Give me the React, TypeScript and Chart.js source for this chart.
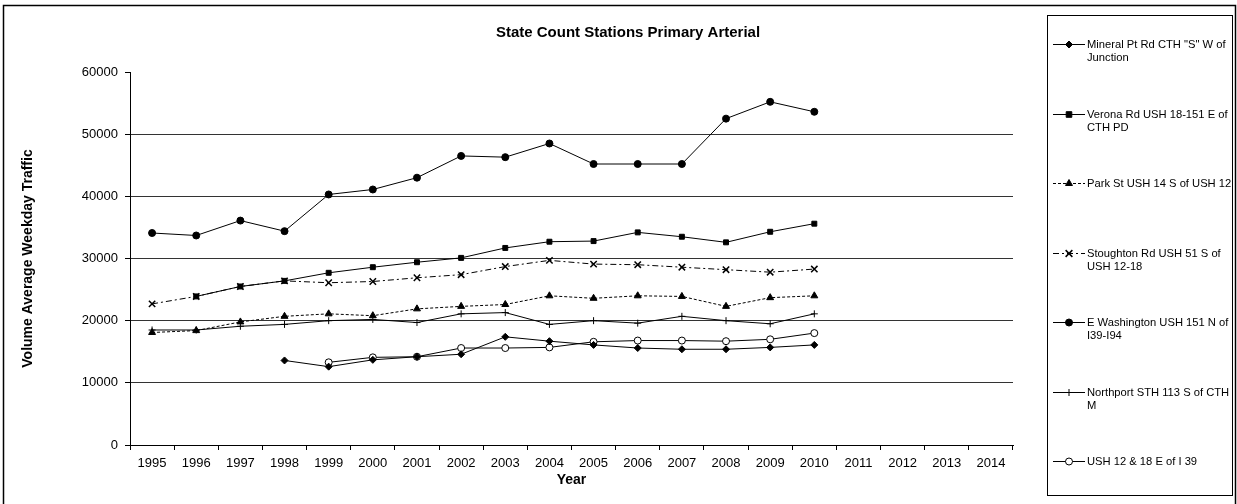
import React, { useEffect, useRef } from 'react';
import { Chart, registerables } from 'chart.js';

Chart.register(...registerables);

const chartTitle = 'State Count Stations Primary Arterial';
const yAxisTitle = 'Volume Average Weekday Traffic';
const xAxisTitle = 'Year';

const years = ['1995', '1996', '1997', '1998', '1999', '2000', '2001', '2002', '2003', '2004',
  '2005', '2006', '2007', '2008', '2009', '2010', '2011', '2012', '2013', '2014'];

const yTicks = [0, 10000, 20000, 30000, 40000, 50000, 60000];

const mineralPt = [null, null, null, 13600, 12600, 13700, 14200, 14600, 17400, 16700, 16100, 15600, 15400, 15400, 15700, 16100];
const veronaRd = [null, 23900, 25500, 26400, 27700, 28600, 29400, 30100, 31700, 32700, 32800, 34200, 33500, 32600, 34300, 35600];
const parkSt = [18100, 18400, 19800, 20700, 21100, 20800, 21900, 22300, 22600, 24000, 23600, 24000, 23900, 22300, 23700, 24000];
const stoughtonRd = [22700, 23900, 25500, 26400, 26100, 26300, 26900, 27400, 28700, 29700, 29100, 29000, 28600, 28200, 27800, 28300];
const eWashington = [34100, 33700, 36100, 34400, 40300, 41100, 43000, 46500, 46300, 48500, 45200, 45200, 45200, 52500, 55200, 53600];
const northport = [18500, 18500, 19100, 19400, 20000, 20200, 19700, 21100, 21300, 19400, 20000, 19600, 20700, 20000, 19500, 21100];
const ush12and18 = [null, null, null, null, 13300, 14100, 14200, 15600, 15600, 15700, 16600, 16800, 16800, 16700, 17000, 18000];

const seriesNames = [
  ['Mineral Pt Rd CTH "S" W of', 'Junction'],
  ['Verona Rd USH 18-151 E of', 'CTH PD'],
  ['Park St USH 14 S of USH 12'],
  ['Stoughton Rd USH 51 S of', 'USH 12-18'],
  ['E Washington USH 151 N of', 'I39-I94'],
  ['Northport STH 113 S of CTH', 'M'],
  ['USH 12 & 18 E of I 39'],
];

const FONT = '"Liberation Sans", Arial, sans-serif';

function drawMarker(ctx: CanvasRenderingContext2D, style: string, x: number, y: number, r: number, fill: string) {
  ctx.save();
  ctx.fillStyle = fill;
  ctx.strokeStyle = '#000';
  ctx.lineWidth = 1;
  ctx.setLineDash([]);
  ctx.beginPath();
  if (style === 'circle') {
    ctx.arc(x, y, r, 0, Math.PI * 2);
    ctx.fill();
    ctx.stroke();
  } else if (style === 'rect') {
    const s = r * 0.8;
    ctx.rect(x - s, y - s, 2 * s, 2 * s);
    ctx.fill();
    ctx.stroke();
  } else if (style === 'rectRot') {
    ctx.moveTo(x, y - r);
    ctx.lineTo(x + r, y);
    ctx.lineTo(x, y + r);
    ctx.lineTo(x - r, y);
    ctx.closePath();
    ctx.fill();
    ctx.stroke();
  } else if (style === 'triangle') {
    ctx.moveTo(x, y - r);
    ctx.lineTo(x + r * 0.866, y + r / 2);
    ctx.lineTo(x - r * 0.866, y + r / 2);
    ctx.closePath();
    ctx.fill();
    ctx.stroke();
  } else if (style === 'crossRot') {
    ctx.lineWidth = 1.5;
    const s = r * 0.75;
    ctx.moveTo(x - s, y - s);
    ctx.lineTo(x + s, y + s);
    ctx.moveTo(x + s, y - s);
    ctx.lineTo(x - s, y + s);
    ctx.stroke();
  } else if (style === 'cross') {
    ctx.moveTo(x, y - r);
    ctx.lineTo(x, y + r);
    ctx.moveTo(x - r, y);
    ctx.lineTo(x + r, y);
    ctx.stroke();
  }
  ctx.restore();
}

const overlayPlugin = {
  id: 'overlay',
  afterDraw(chart: any) {
    const ctx: CanvasRenderingContext2D = chart.ctx;
    ctx.save();
    // outer frame
    ctx.strokeStyle = '#000';
    ctx.lineWidth = 1.5;
    ctx.beginPath();
    ctx.moveTo(3.5, 530);
    ctx.lineTo(3.5, 5.5);
    ctx.lineTo(1235.5, 5.5);
    ctx.lineTo(1235.5, 530);
    ctx.stroke();

    // title
    ctx.fillStyle = '#000';
    ctx.font = `bold 15px ${FONT}`;
    ctx.textAlign = 'center';
    ctx.textBaseline = 'middle';
    ctx.fillText(chartTitle, 628, 33);

    // legend box
    ctx.lineWidth = 1;
    ctx.strokeRect(1047.5, 15.5, 185, 480);

    ctx.font = `11.2px ${FONT}`;
    ctx.textAlign = 'left';
    chart.data.datasets.forEach((ds: any, i: number) => {
      const y = Math.round(44 + i * 69.5) + 0.5;
      ctx.save();
      ctx.strokeStyle = '#000';
      ctx.lineWidth = 1;
      ctx.setLineDash(ds.borderDash || []);
      ctx.beginPath();
      ctx.moveTo(1053, y);
      ctx.lineTo(1085, y);
      ctx.stroke();
      ctx.restore();
      drawMarker(ctx, ds.pointStyle, 1069, y, ds.pointRadius, ds.pointBackgroundColor);
      const lines = seriesNames[i];
      ctx.fillStyle = '#000';
      lines.forEach((t, j) => ctx.fillText(t, 1087, y + j * 13));
    });
    ctx.restore();
  },
};

export default function App() {
  const ref = useRef<HTMLCanvasElement | null>(null);

  useEffect(() => {
    if (!ref.current) return;
    const mk = (idx: number, data: (number | null)[], pointStyle: string, radius: number, dash: number[], fill = '#000') => ({
      label: seriesNames[idx].join(' '),
      data,
      borderColor: '#000',
      backgroundColor: fill,
      borderWidth: 1,
      borderDash: dash,
      pointStyle,
      pointRadius: radius,
      pointBackgroundColor: fill,
      pointBorderColor: '#000',
      pointBorderWidth: pointStyle === 'crossRot' ? 1.5 : 1,
      tension: 0,
      fill: false,
    });

    const chart = new Chart(ref.current, {
      type: 'line',
      data: {
        labels: years,
        datasets: [
          mk(0, mineralPt, 'rectRot', 3.5, []),
          mk(1, veronaRd, 'rect', 3.5, []),
          mk(2, parkSt, 'triangle', 4, [3, 2]),
          mk(3, stoughtonRd, 'crossRot', 4.5, [6, 3, 2, 3]),
          mk(4, eWashington, 'circle', 3.5, []),
          mk(5, northport, 'cross', 3.5, []),
          mk(6, ush12and18, 'circle', 3.5, [], '#fff'),
        ] as any,
      },
      options: {
        responsive: false,
        animation: false,
        events: [],
        layout: { padding: { left: 0, top: 72, right: 224, bottom: 0 } },
        plugins: {
          legend: { display: false },
          title: { display: false },
          tooltip: { enabled: false },
        },
        scales: {
          x: {
            type: 'category',
            offset: true,
            afterFit: (s: any) => { s.height = 59; },
            grid: {
              offset: true,
              drawOnChartArea: false,
              drawTicks: true,
              tickLength: 5,
              tickColor: '#000',
            },
            border: { display: true, color: '#000', width: 1 },
            ticks: {
              color: '#000',
              font: { family: FONT, size: 13 },
              padding: 6,
              maxRotation: 0,
              autoSkip: false,
            },
            title: {
              display: true,
              text: xAxisTitle,
              color: '#000',
              font: { family: FONT, size: 14, weight: 'bold' },
              padding: { top: 0, bottom: 15 },
            },
          },
          y: {
            type: 'linear',
            min: 0,
            max: 60000,
            afterFit: (s: any) => { s.width = 130; },
            afterBuildTicks: (s: any) => { s.ticks = yTicks.map((v) => ({ value: v })); },
            grid: {
              color: (c: any) => (c.tick && c.tick.value === 60000 ? 'rgba(0,0,0,0)' : '#333'),
              lineWidth: 1,
              drawTicks: true,
              tickLength: 5,
              tickColor: '#000',
            },
            border: { display: true, color: '#000', width: 1 },
            ticks: {
              color: '#000',
              font: { family: FONT, size: 13 },
              padding: 7,
              callback: (v: any) => String(v),
            },
            title: {
              display: true,
              text: yAxisTitle,
              color: '#000',
              font: { family: FONT, size: 14, weight: 'bold' },
              padding: { top: 20, bottom: 0 },
            },
          },
        },
      },
      plugins: [overlayPlugin],
    } as any);
    return () => chart.destroy();
  }, []);

  return (
    <div style={{ position: 'absolute', left: 0, top: 0, width: 1237, height: 504, background: '#fff' }}>
      <canvas ref={ref} width={1237} height={504} />
    </div>
  );
}
